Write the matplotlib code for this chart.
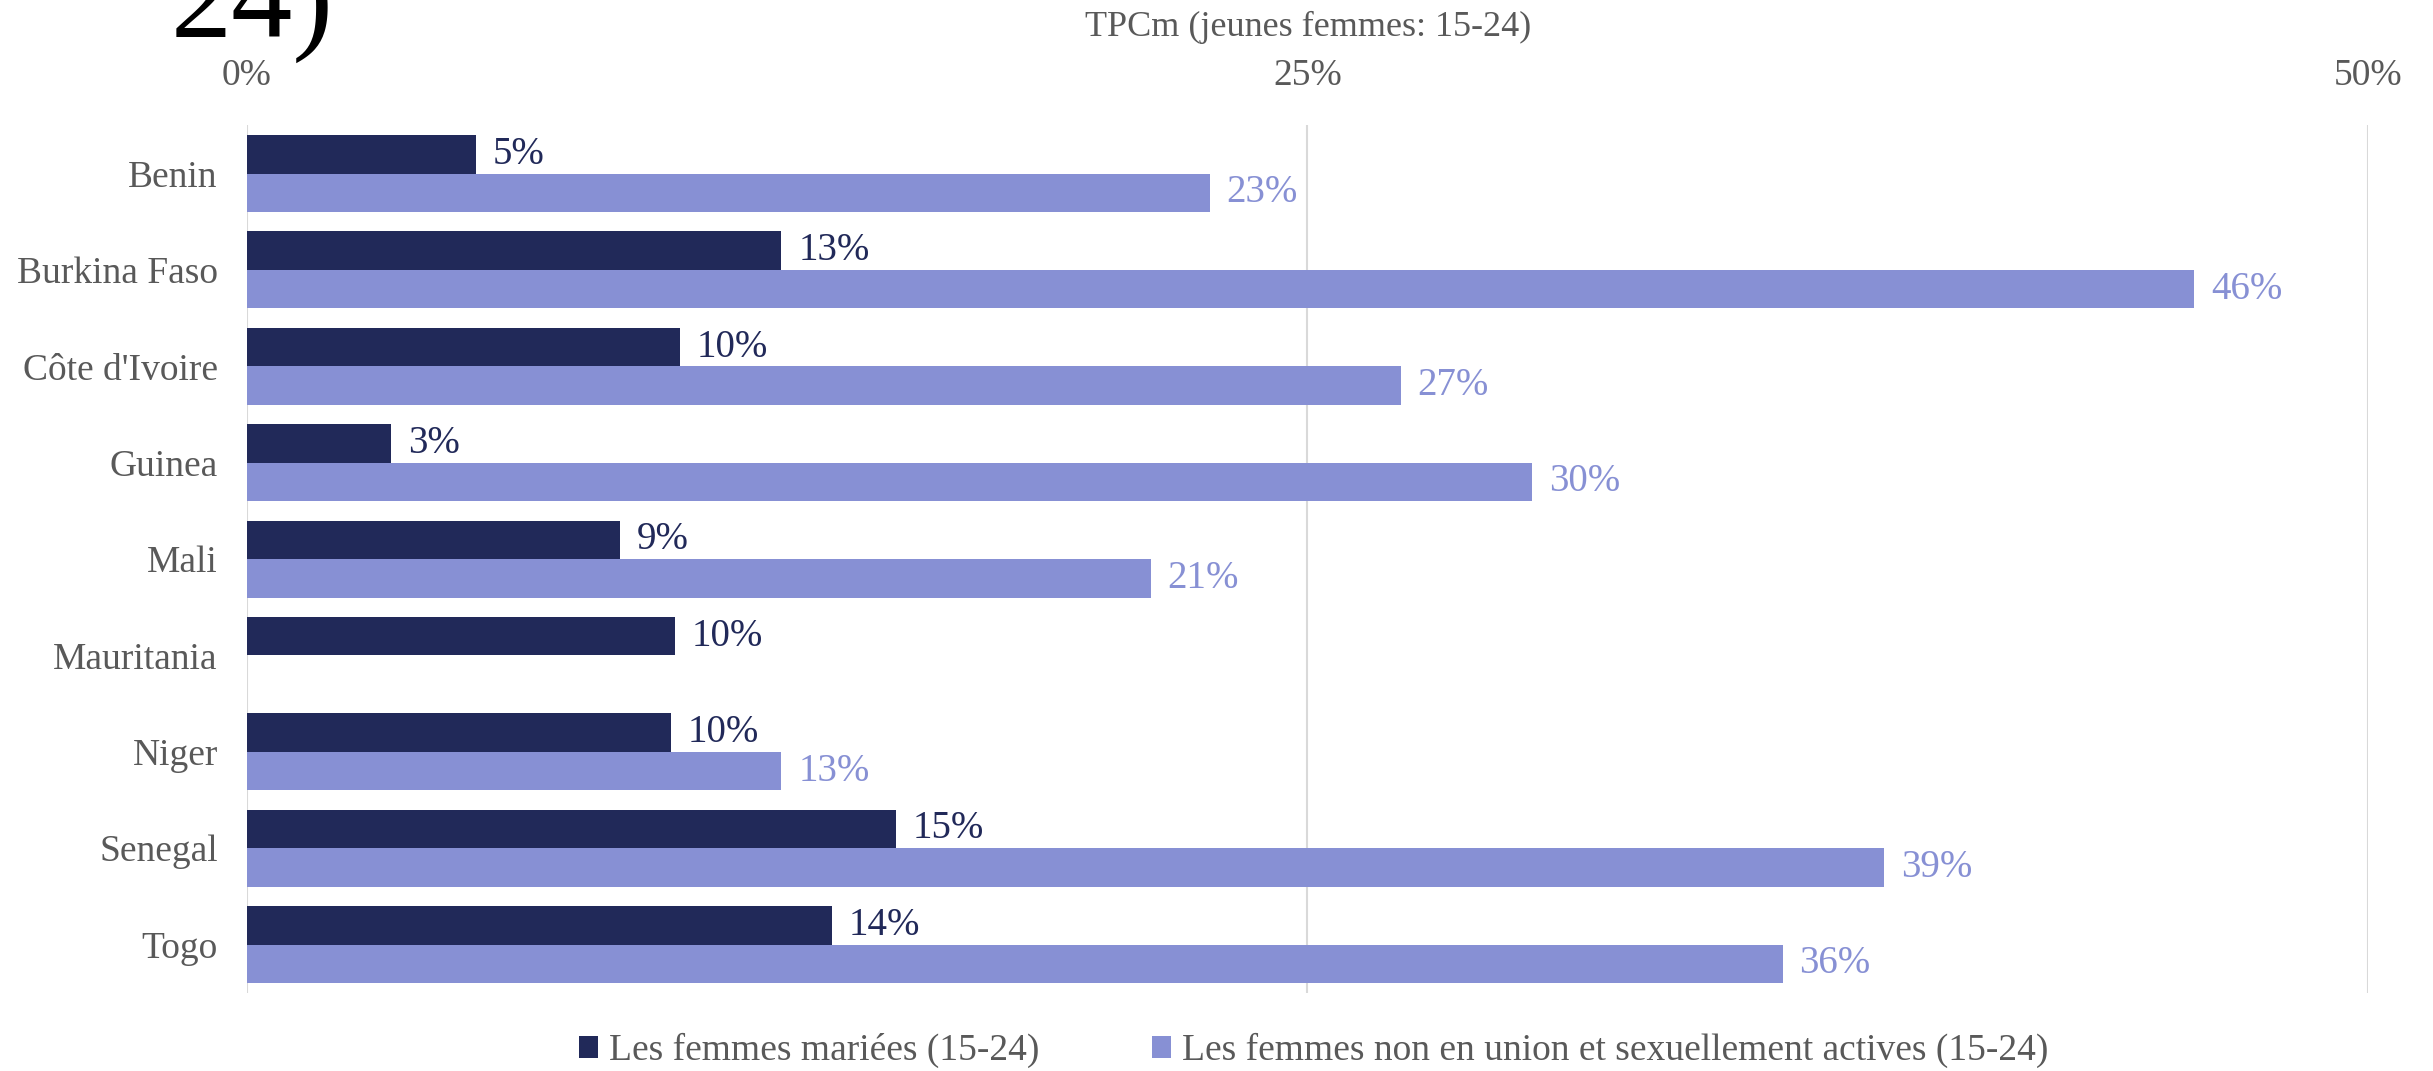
import matplotlib.pyplot as plt
import numpy as np

plt.rcParams['font.family'] = ['Liberation Serif', 'DejaVu Serif']

# Données
pays = ['Benin', 'Burkina Faso', "Côte d'Ivoire", 'Guinea', 'Mali',
        'Mauritania', 'Niger', 'Senegal', 'Togo']
mariees = [5.4, 12.6, 10.2, 3.4, 8.8, 10.1, 10.0, 15.3, 13.8]
non_union = [22.7, 45.9, 27.2, 30.3, 21.3, np.nan, 12.6, 38.6, 36.2]

couleur_fonce = '#212959'
couleur_clair = '#8790D4'
gris = '#595959'
fs = 27

fig = plt.figure(figsize=(24.33, 10.71), dpi=100)
ax = fig.add_axes([0.1015, 0.073, 0.8718, 0.81])

y = np.arange(len(pays))
h = 0.4
b1 = ax.barh(y - h / 2, mariees, height=h, color=couleur_fonce,
             label='Les femmes mariées (15-24)')
b2 = ax.barh(y + h / 2, non_union, height=h, color=couleur_clair,
             label='Les femmes non en union et sexuellement actives (15-24)')

# étiquettes des valeurs
for rect, v in zip(b1, mariees):
    ax.annotate(f'{round(v):.0f}%', (v, rect.get_y() + rect.get_height() / 2),
                xytext=(12, 0), textcoords='offset points',
                va='center', ha='left', fontsize=28, color=couleur_fonce)
for rect, v in zip(b2, non_union):
    if np.isnan(v):
        continue
    ax.annotate(f'{round(v):.0f}%', (v, rect.get_y() + rect.get_height() / 2),
                xytext=(12, 0), textcoords='offset points',
                va='center', ha='left', fontsize=28, color=couleur_clair)

ax.set_xlim(0, 50)
ax.set_ylim(len(pays) - 0.5, -0.5)
ax.set_xticks([0, 25, 50])
ax.set_xticklabels(['0%', '25%', '50%'])
ax.xaxis.tick_top()
ax.set_yticks(y)
ax.set_yticklabels(pays)
ax.tick_params(axis='both', length=0, labelsize=fs, colors=gris)
ax.tick_params(axis='x', pad=23)
ax.tick_params(axis='y', pad=21)
for s in ax.spines.values():
    s.set_visible(False)
ax.grid(axis='x', color='#D9D9D9', linewidth=1.5)
ax.set_axisbelow(True)

fig.text(0.5375, 0.974, 'TPCm (jeunes femmes: 15-24)', ha='center', va='center',
         fontsize=26, color=gris)
fig.text(0.07, 0.9655, '24)', ha='left', va='baseline', fontsize=88,
         color='black', family='Liberation Serif')

fig.legend(loc='center', bbox_to_anchor=(0.54, 0.019), ncol=2, frameon=False,
           fontsize=fs, labelcolor=gris, handlelength=0.5, handleheight=0.5,
           handletextpad=0.3, columnspacing=3.0)

fig.savefig('out.png', dpi=100)
